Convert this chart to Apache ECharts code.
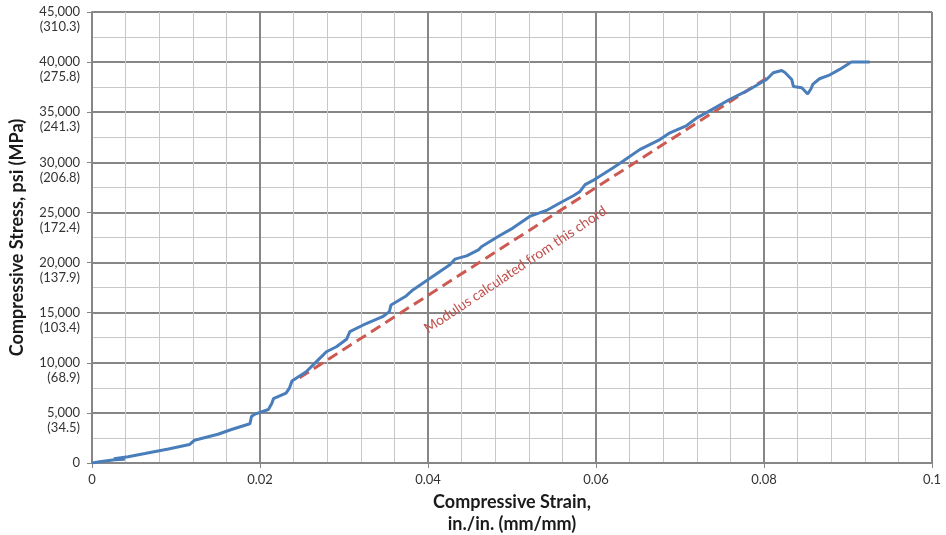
<!DOCTYPE html>
<html>
<head>
<meta charset="utf-8">
<script src="https://cdn.jsdelivr.net/npm/echarts@6/dist/echarts.min.js"></script>
<style>html,body{margin:0;padding:0;background:#fff}#c{width:946px;height:535px}</style>
</head>
<body>
<div id="c"></div>
<script>
// Measured stress-strain curve: strain (in./in.) and stress (psi)
var strain = [0, 0.0009, 0.0027, 0.0039, 0.0026, 0.0043, 0.0063, 0.0091, 0.0116, 0.0122, 0.0150, 0.0166, 0.0188, 0.0190, 0.0194, 0.0210, 0.0214, 0.0216, 0.0231, 0.0235, 0.0238, 0.0255, 0.0269, 0.0279, 0.0291, 0.0303, 0.0307, 0.0323, 0.0346, 0.0354, 0.0356, 0.0374, 0.0382, 0.0402, 0.0426, 0.0432, 0.0446, 0.0460, 0.0464, 0.0485, 0.0501, 0.0521, 0.0541, 0.0557, 0.0573, 0.0581, 0.0587, 0.0596, 0.0620, 0.0632, 0.0652, 0.0676, 0.0688, 0.0708, 0.0720, 0.0731, 0.0759, 0.0779, 0.0803, 0.0811, 0.0821, 0.0825, 0.0833, 0.0835, 0.0845, 0.0852, 0.0856, 0.0858, 0.0866, 0.0877, 0.0890, 0.0904, 0.0926];
var stress = [0, 120, 320, 380, 430, 620, 940, 1400, 1840, 2270, 2870, 3340, 3920, 4670, 4870, 5340, 5940, 6420, 6970, 7470, 8170, 9100, 10270, 11100, 11600, 12340, 13100, 13770, 14600, 15100, 15770, 16670, 17270, 18400, 19770, 20340, 20670, 21270, 21600, 22670, 23440, 24600, 25200, 25940, 26670, 27100, 27770, 28170, 29440, 30100, 31270, 32270, 32940, 33670, 34440, 34940, 36270, 37100, 38270, 38940, 39170, 38970, 38270, 37570, 37440, 36820, 37340, 37770, 38340, 38670, 39270, 40020, 40020];
// Chord used for the modulus
var chordStrain = [0.0247, 0.0803];
var chordStress = [8500, 38400];
// Tick labels
var yTickPsi = [0, 5000, 10000, 15000, 20000, 25000, 30000, 35000, 40000, 45000];
var yTickPsiLabel = ['0', '5,000', '10,000', '15,000', '20,000', '25,000', '30,000', '35,000', '40,000', '45,000'];
var yTickMpaLabel = ['', '(34.5)', '(68.9)', '(103.4)', '(137.9)', '(172.4)', '(206.8)', '(241.3)', '(275.8)', '(310.3)'];
var chordLabel = 'Modulus calculated from this chord';

var curve = strain.map(function (s, i) { return [s, stress[i]]; });
var chord = chordStrain.map(function (s, i) { return [s, chordStress[i]]; });

var FONT = 'Lato, "Open Sans", sans-serif';
var chart = echarts.init(document.getElementById('c'), null, {renderer: 'canvas'});
chart.setOption({
  animation: false,
  backgroundColor: '#ffffff',
  grid: {left: 92, right: 14, top: 12, bottom: 72, containLabel: false, outerBoundsMode: 'none'},
  xAxis: {
    type: 'value', min: 0, max: 0.1, interval: 0.02,
    name: 'Compressive Strain,\nin./in. (mm/mm)', nameLocation: 'middle', nameGap: 26,
    nameTextStyle: {fontFamily: FONT, fontWeight: 'bold', fontSize: 18, color: '#1a1a1a', lineHeight: 22, verticalAlign: 'top'},
    axisLine: {show: true, lineStyle: {color: '#868686', width: 2}},
    axisTick: {show: true, length: 5, lineStyle: {color: '#868686', width: 1}},
    minorTick: {show: false, splitNumber: 5},
    axisLabel: {fontFamily: FONT, fontSize: 13, color: '#333333', margin: 10,
      formatter: function (v) { return String(+v.toFixed(2)); }},
    splitLine: {show: true, lineStyle: {color: '#868686', width: 2}},
    minorSplitLine: {show: true, lineStyle: {color: '#c8c8c8', width: 1}}
  },
  yAxis: {
    type: 'value', min: 0, max: 45000, interval: 5000,
    name: 'Compressive Stress, psi (MPa)', nameLocation: 'middle', nameGap: 66,
    nameTextStyle: {fontFamily: FONT, fontWeight: 'bold', fontSize: 18, color: '#1a1a1a'},
    axisLine: {show: true, lineStyle: {color: '#868686', width: 2}},
    axisTick: {show: true, length: 5, lineStyle: {color: '#868686', width: 1}},
    minorTick: {show: false, splitNumber: 2},
    axisLabel: {fontFamily: FONT, fontSize: 13, color: '#333333', margin: 12, lineHeight: 15,
      verticalAlign: 'middle',
      formatter: function (v) {
        var i = yTickPsi.indexOf(v);
        return ' \n' + yTickPsiLabel[i] + '\n' + (yTickMpaLabel[i] || ' ');
      }},
    splitLine: {show: true, lineStyle: {color: '#868686', width: 2}},
    minorSplitLine: {show: true, lineStyle: {color: '#c8c8c8', width: 1}}
  },
  series: [
    {type: 'line', data: chord, showSymbol: false, symbol: 'none', z: 3,
      lineStyle: {color: '#cd5a52', width: 3, type: [11, 6]}},
    {type: 'line', data: curve, showSymbol: false, symbol: 'none', z: 4,
      lineStyle: {color: '#4a7ebb', width: 3}}
  ]
});
var p = chart.convertToPixel({gridIndex: 0}, [0.0504, 19300]);
var a = chart.convertToPixel({gridIndex: 0}, chord[0]);
var b = chart.convertToPixel({gridIndex: 0}, chord[1]);
var ang = Math.atan2(a[1] - b[1], b[0] - a[0]) + 0.02;
chart.setOption({
  graphic: [{
    type: 'text', x: p[0], y: p[1], rotation: ang, z: 10,
    style: {text: chordLabel, fontFamily: FONT, fontSize: 14, fill: '#c0504d', align: 'center', verticalAlign: 'middle'}
  }]
});
</script>
</body>
</html>
